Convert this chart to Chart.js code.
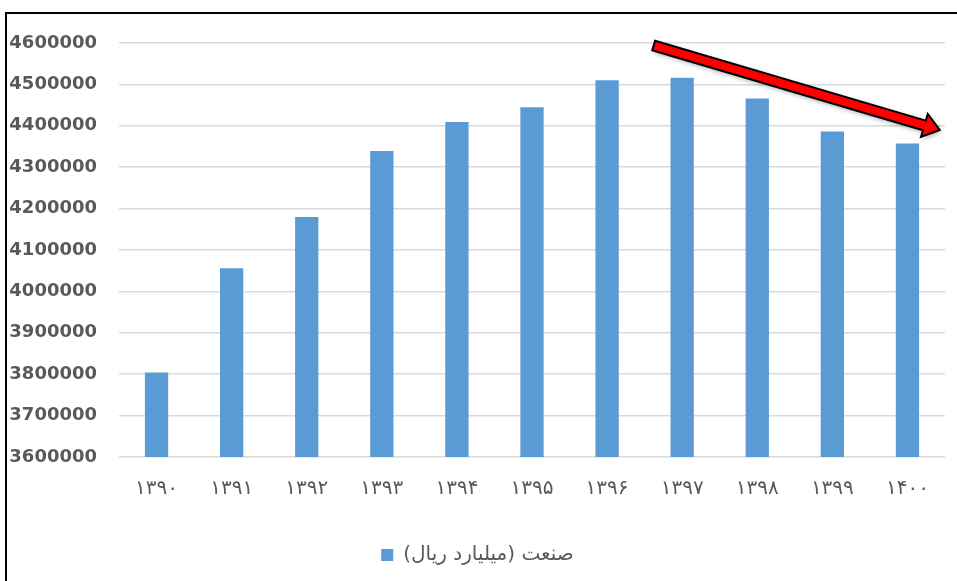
<!DOCTYPE html>
<html>
<head>
<meta charset="utf-8">
<script src="https://cdn.jsdelivr.net/npm/chart.js@4"></script>
<style>
  html, body { margin: 0; padding: 0; background: #fff; overflow: hidden; }
  #frame { position: absolute; left: 5px; top: 12px; width: 1000px; height: 700px; border: 2px solid #000; }
  #wrap { position: absolute; left: 0; top: 0; width: 957px; height: 581px; }
</style>
</head>
<body>
<div id="frame"></div>
<div id="wrap"><canvas id="chart"></canvas></div>
<script>
// سال‌ها (محور افقی)
const years = ['۱۳۹۰', '۱۳۹۱', '۱۳۹۲', '۱۳۹۳', '۱۳۹۴', '۱۳۹۵', '۱۳۹۶', '۱۳۹۷', '۱۳۹۸', '۱۳۹۹', '۱۴۰۰'];
// صنعت (میلیارد ریال)
const industry = [3804000, 4056000, 4180000, 4339000, 4409000, 4445000, 4510000, 4516000, 4466000, 4386000, 4357000];
const seriesLabel = 'صنعت (میلیارد ریال)';
// محور عمودی
const yMin = 3600000;
const yMax = 4600000;
const yStep = 100000;
// فلش روند نزولی: [اندیس دسته، مقدار]
const arrowFrom = [6.62, 4594000];
const arrowTo = [10.43, 4390000];

// رسم فلش قرمز روی نمودار
const arrowPlugin = {
    id: 'trendArrow',
    afterDatasetsDraw(chart) {
        const { ctx, scales } = chart;
        const x1 = scales.x.getPixelForValue(arrowFrom[0]);
        const y1 = scales.y.getPixelForValue(arrowFrom[1]);
        const x2 = scales.x.getPixelForValue(arrowTo[0]);
        const y2 = scales.y.getPixelForValue(arrowTo[1]);
        const ang = Math.atan2(y2 - y1, x2 - x1);
        const len = Math.hypot(x2 - x1, y2 - y1);
        const shaft = 5, head = 12, headLen = 16;
        ctx.save();
        ctx.translate(x1, y1);
        ctx.rotate(ang);
        ctx.beginPath();
        ctx.moveTo(0, -shaft);
        ctx.lineTo(len - headLen, -shaft);
        ctx.lineTo(len - headLen, -head);
        ctx.lineTo(len, 0);
        ctx.lineTo(len - headLen, head);
        ctx.lineTo(len - headLen, shaft);
        ctx.lineTo(0, shaft);
        ctx.closePath();
        ctx.shadowColor = 'rgba(0,0,0,0.35)';
        ctx.shadowBlur = 5;
        ctx.shadowOffsetX = 1;
        ctx.shadowOffsetY = 2;
        ctx.fillStyle = '#ff0000';
        ctx.fill();
        ctx.shadowColor = 'transparent';
        ctx.lineWidth = 2;
        ctx.strokeStyle = '#000';
        ctx.lineJoin = 'miter';
        ctx.stroke();
        ctx.restore();
    }
};

const ctx = document.getElementById('chart').getContext('2d');
new Chart(ctx, {
    type: 'bar',
    data: {
        labels: years,
        datasets: [{
            label: seriesLabel,
            data: industry,
            backgroundColor: '#5b9bd5',
            borderColor: '#5b9bd5',
            borderWidth: 0,
            categoryPercentage: 1,
            barPercentage: 0.31
        }]
    },
    options: {
        responsive: true,
        maintainAspectRatio: false,
        animation: false,
        devicePixelRatio: 1,
        layout: {
            padding: { left: 10, right: 12, top: 43, bottom: 6 }
        },
        scales: {
            x: {
                grid: { display: false, drawTicks: false },
                border: { display: false },
                ticks: {
                    color: '#595959',
                    padding: 20,
                    font: { family: 'DejaVu Sans', size: 20 }
                }
            },
            y: {
                min: yMin,
                max: yMax,
                ticks: {
                    stepSize: yStep,
                    color: '#595959',
                    padding: 22,
                    font: { family: 'DejaVu Sans', size: 18, weight: 'bold' },
                    callback: function(value) {
                        return String(value);
                    }
                },
                grid: { color: '#d9d9d9', lineWidth: 1.5, drawTicks: false },
                border: { display: false },
                afterFit(scale) { scale.width = 109; }
            }
        },
        plugins: {
            legend: {
                display: true,
                position: 'bottom',
                textDirection: 'rtl',
                labels: {
                    color: '#595959',
                    boxWidth: 12,
                    boxHeight: 12,
                    padding: 24,
                    font: { family: 'DejaVu Sans', size: 20 }
                }
            },
            tooltip: { enabled: false }
        }
    },
    plugins: [arrowPlugin]
});
</script>
</body>
</html>
